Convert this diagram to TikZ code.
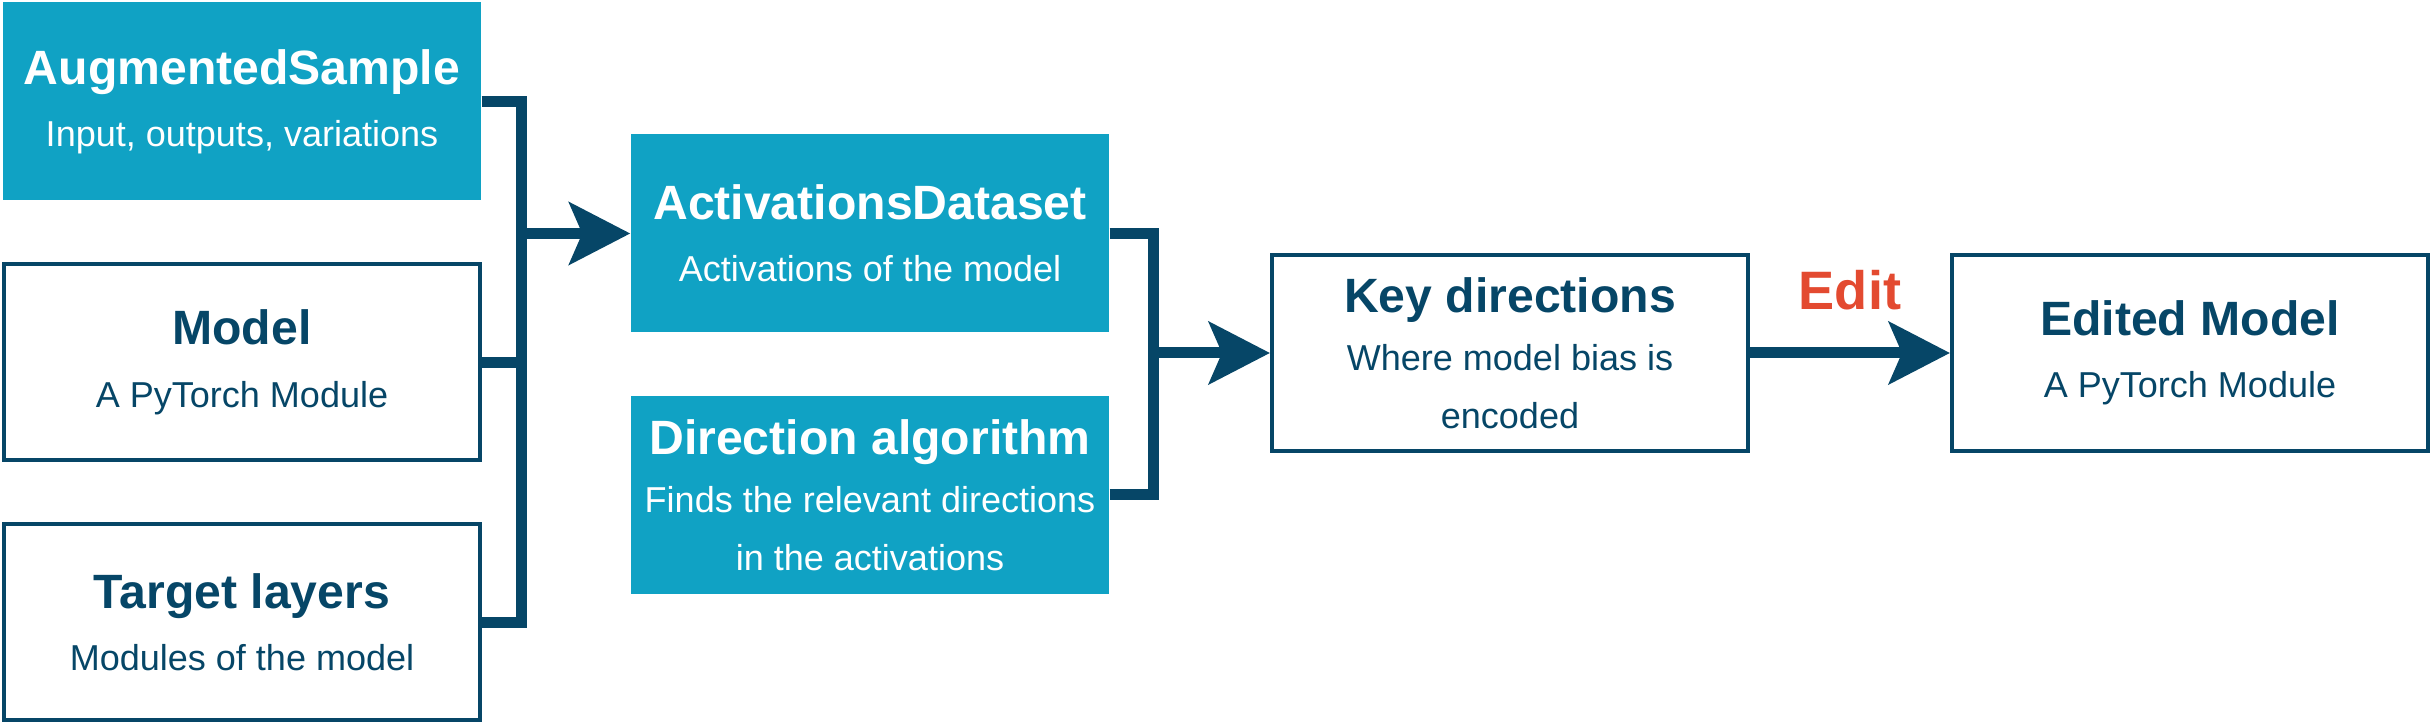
\documentclass[tikz,border=0pt]{standalone}
\usepackage{fontspec}
\setmainfont{Liberation Sans}
\usetikzlibrary{arrows.meta,positioning}
\definecolor{FlowCyan}{HTML}{10A2C4}
\definecolor{FlowNavy}{HTML}{064667}
\definecolor{FlowRed}{HTML}{E34A30}
\newcommand{\boxtitle}{\fontsize{13.7}{16.5}\selectfont\bfseries}
\newcommand{\boxsub}{\fontsize{10.25}{16.5}\selectfont}

\begin{document}
\begin{tikzpicture}[
      box/.style={minimum width=4.78cm,minimum height=1.98cm,
        align=center,inner sep=0pt,font=\boxsub},
      data/.style={box,fill=FlowCyan,text=white},
      module/.style={box,draw=FlowNavy,line width=.04cm,fill=white,
        text=FlowNavy,minimum width=4.76cm,minimum height=1.96cm},
      bus/.style={FlowNavy,line width=.11cm},
      arrow/.style={bus,-{Stealth[length=6.1mm,width=6.2mm,inset=1.3mm]}},
      editlabel/.style={font=\fontsize{15.4}{18}\selectfont\bfseries,
        text=FlowRed,inner sep=0pt}
    ]
      \useasboundingbox (0,0) rectangle (24.32,-7.28);
      % inputs
      \node[data] (sample) at (2.42,-1.015) {{\boxtitle AugmentedSample}\\[1.2pt]Input, outputs, variations};
      \node[module,below=.61cm of sample] (model) {{\boxtitle Model}\\[1.2pt]A PyTorch Module};
      \node[module,below=.60cm of model] (layers) {{\boxtitle Target layers}\\[1.2pt]Modules of the model};
      % intermediate
      \node[data] (acts) at (8.70,-2.335) {{\boxtitle ActivationsDataset}\\[1.2pt]Activations of the model};
      \node[data,below=.62cm of acts] (algo) {{\boxtitle Direction algorithm}\\Finds the relevant directions\\in the activations};
      % outputs
      \node[module] (keydirs) at (15.10,-3.53) {{\boxtitle Key directions}\\Where model bias is\\encoded};
      \node[module,right=2.0cm of keydirs] (edited) {{\boxtitle Edited Model}\\[1.2pt]A PyTorch Module};
      % junctions
      \coordinate[left=1.09cm of acts.west] (joinA);
      \coordinate[left=1.17cm of keydirs.west] (joinB);
      \draw[bus] (sample.east) -| (joinA);
      \draw[bus] (model.east) -| (joinA);
      \draw[bus] (layers.east) -| (joinA);
      \draw[arrow] (joinA) -- (acts.west);
      \draw[bus] (acts.east) -| (joinB);
      \draw[bus] (algo.east) -| (joinB);
      \draw[arrow] (joinB) -- (keydirs.west);
      \draw[arrow] (keydirs) -- node[editlabel,above=.37cm] (edit) {Edit} (edited);
    \end{tikzpicture}
\end{document}
